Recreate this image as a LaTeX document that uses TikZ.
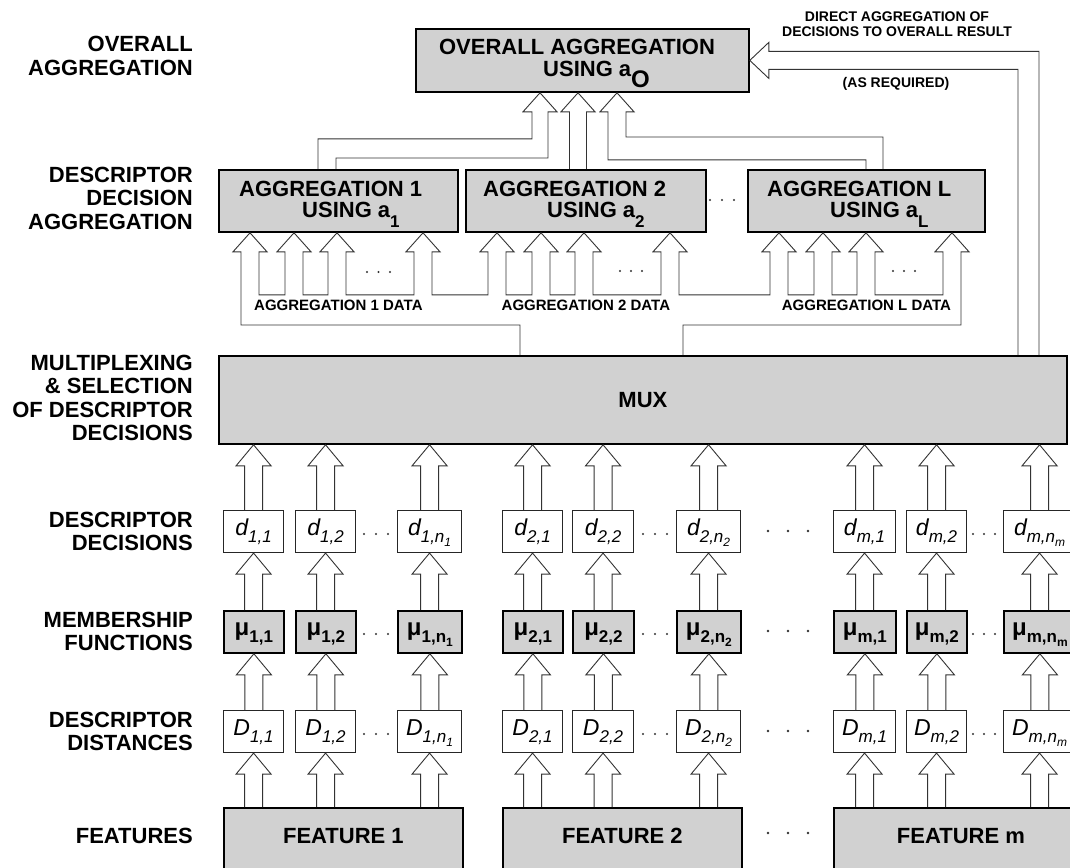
\documentclass[tikz,border=0pt]{standalone}
\usepackage{fontspec}
\setmainfont{Liberation Sans}
\usetikzlibrary{calc}
\newcommand\sbs[1]{\raisebox{-7pt}{\fontsize{17}{17}\selectfont #1}}
\newcommand\ssb[1]{\raisebox{-4pt}{\fontsize{12}{12}\selectfont #1}}
\newcommand\asb[2][17]{\raisebox{-10pt}{\fontsize{#1}{#1}\selectfont #2}}
\newcommand\rlines[1]{\vtop{\halign{\hfil##\cr#1\crcr}}}
\newcommand\clines[1]{\vtop{\halign{\hfil##\hfil\cr#1\crcr}}}
\newcommand\hd[1]{-- ($(#1)+(-17,19)$) -- (#1) -- ($(#1)+(17,19)$) -- ($(#1)+(9,19)$)}
\newcommand\ud[2]{-- ($(#1)+(9,62)$) -- ($(#2)+(-9,62)$) -- ($(#2)+(-9,19)$)}
\newcommand\harrow[2]{\draw[conn] let \p1=(#1), \p2=(#2) in (\x2-9pt,\y1) -- (\x2-9pt,\y2-21pt) -- (\x2-17.5pt,\y2-21pt) -- (\x2,\y2) -- (\x2+17.5pt,\y2-21pt) -- (\x2+9pt,\y2-21pt) -- (\x2+9pt,\y1);}
\newcommand\threedots[4]{\foreach \k in {0,1,2}{\fill[black!80] ({#1+\k*#3},#2) circle (#4);}}
\newcommand\cellrow[3]{%
 \node[#2,minimum width=60pt] (#1-11) at (223,0) {#3\sbs{1,1}};
 \node[#2,minimum width=60pt] (#1-12) at (295,0) {#3\sbs{1,2}};
 \node[#2,minimum width=64pt] (#1-1n) at (397,0) {#3\sbs{1,n\ssb{1}}};
 \node[#2,minimum width=60pt] (#1-21) at (502,0) {#3\sbs{2,1}};
 \node[#2,minimum width=61pt] (#1-22) at (572,0) {#3\sbs{2,2}};
 \node[#2,minimum width=64pt] (#1-2n) at (676,0) {#3\sbs{2,n\ssb{2}}};
 \node[#2,minimum width=62pt] (#1-m1) at (833,0) {#3\sbs{m,1}};
 \node[#2,minimum width=60pt] (#1-m2) at (906,0) {#3\sbs{m,2}};
 \node[#2,minimum width=72pt] (#1-mn) at (1003,0) {#3\sbs{m,n\ssb{m}}};
}
\begin{document}
\begin{tikzpicture}[x=1pt,y=-1pt,
  conn/.style={draw=black!80,line width=0.9pt,line join=miter},
  gbox/.style={draw=black,line width=1.8pt,fill=black!18,inner sep=0pt},
  wbox/.style={draw=black!85,line width=1.1pt,fill=white,inner sep=0pt},
  cellw/.style={wbox,text height=25pt,text depth=17pt,anchor=north west,font=\fontsize{23}{23}\selectfont\itshape},
  cellg/.style={gbox,text height=25pt,text depth=17pt,anchor=north west,font=\fontsize{24}{24}\selectfont\bfseries},
  btxt/.style={inner sep=0pt,font=\fontsize{22}{22}\selectfont\bfseries},
  lbl/.style={inner sep=0pt,anchor=base east,font=\fontsize{22}{23.5}\selectfont\bfseries},
  dtxt/.style={inner sep=0pt,anchor=base,font=\fontsize{15}{15}\selectfont\bfseries},
  stxt/.style={inner sep=0pt,anchor=base,font=\fontsize{14}{15}\selectfont\bfseries}]
\useasboundingbox (0,0) rectangle (1070,867);
\fill[white] (0,0) rectangle (1070,867);
\clip (0,0) rectangle (1070,867);

% left labels
\node[lbl] (L1) at (193,52) {\rlines{OVERALL\cr AGGREGATION}};
\node[lbl] (L2) at (193,182) {\rlines{DESCRIPTOR\cr DECISION\cr AGGREGATION}};
\node[lbl] (L3) at (193,370) {\rlines{MULTIPLEXING\cr \& SELECTION\cr OF DESCRIPTOR\cr DECISIONS}};
\node[lbl] (L4) at (193,527) {\rlines{DESCRIPTOR\cr DECISIONS}};
\node[lbl] (L5) at (193,627) {\rlines{MEMBERSHIP\cr FUNCTIONS}};
\node[lbl] (L6) at (193,727) {\rlines{DESCRIPTOR\cr DISTANCES}};
\node[lbl] (L7) at (193,843) {FEATURES};

% overall box
\node[gbox,minimum width=333pt,minimum height=63pt,anchor=north west] (ovr) at (415,28) {};
\node[btxt,anchor=base] (ovr1) at (577,55) {OVERALL AGGREGATION};
\node[btxt,anchor=base west] (ovr2) at (543,77) {USING a\asb[24]{O}};

% aggregation boxes
\node[gbox,minimum width=239pt,minimum height=62pt,anchor=north west] (agg1) at (218,169) {};
\node[gbox,minimum width=240pt,minimum height=62pt,anchor=north west] (agg2) at (465,169) {};
\node[gbox,minimum width=237pt,minimum height=62pt,anchor=north west] (aggL) at (747,169) {};
\node[btxt,anchor=base west] (a1t1) at (239,196) {AGGREGATION 1};
\node[btxt,anchor=base west] (a1t2) at (302,217) {USING a\asb{1}};
\node[btxt,anchor=base west] (a2t1) at (483,196) {AGGREGATION 2};
\node[btxt,anchor=base west] (a2t2) at (547,217) {USING a\asb{2}};
\node[btxt,anchor=base west] (aLt1) at (767,196) {AGGREGATION L};
\node[btxt,anchor=base west] (aLt2) at (830,217) {USING a\asb{L}};
\threedots{710}{200}{12}{1.2pt}

% MUX
\node[gbox,minimum width=848pt,minimum height=88pt,anchor=north west,font=\fontsize{22}{22}\selectfont\bfseries] (mux) at (218,355) {MUX};

% data labels
\node[dtxt] (d1l) at (agg1.south |- 0,310) {AGGREGATION 1 DATA};
\node[dtxt] (d2l) at (agg2.south |- 0,310) {AGGREGATION 2 DATA};
\node[dtxt] (dLl) at (aggL.south |- 0,310) {AGGREGATION L DATA};

% direct aggregation text
\node[stxt] (dir) at (897,22) {\clines{DIRECT AGGREGATION OF\cr DECISIONS TO OVERALL RESULT}};
\node[stxt] (asr) at (896,87) {(AS REQUIRED)};

% rows of cells
\begin{scope}[yshift=-510pt]\cellrow{dec}{cellw}{d}\end{scope}
\begin{scope}[yshift=-610pt]\cellrow{mem}{cellg}{μ}\end{scope}
\begin{scope}[yshift=-710pt]\cellrow{dst}{cellw}{D}\end{scope}

% features
\node[gbox,minimum width=239pt,text height=36pt,text depth=44pt,anchor=north west,font=\fontsize{22}{22}\selectfont\bfseries] (f1) at (223,807) {FEATURE 1};
\node[gbox,minimum width=239pt,text height=36pt,text depth=44pt,anchor=north west,font=\fontsize{22}{22}\selectfont\bfseries] (f2) at (502,807) {FEATURE 2};
\node[gbox,minimum width=254pt,text height=36pt,text depth=44pt,anchor=north west,font=\fontsize{22}{22}\selectfont\bfseries] (fm) at (833,807) {FEATURE m};

% dots
\foreach \y in {534,634,734}{
  \threedots{364}{\y}{12}{1.2pt}
  \threedots{643}{\y}{12}{1.2pt}
  \threedots{973}{\y}{11}{1.2pt}}
\foreach \y in {531,631,731,833}{\threedots{768}{\y}{20}{1.3pt}}
\threedots{367}{272}{11.5}{1.2pt}
\threedots{620}{271}{11}{1.2pt}
\threedots{893}{271}{11}{1.2pt}

% vertical hollow arrows
\foreach \c/\f in {11/f1,12/f1,1n/f1,21/f2,22/f2,2n/f2,m1/fm,m2/fm,mn/fm}{
  \harrow{dec-\c.north}{dec-\c.north |- mux.south}
  \harrow{mem-\c.north}{dec-\c.south}
  \harrow{dst-\c.north}{mem-\c.south}
  \harrow{dst-\c.south |- \f.north}{dst-\c.south}
}

% bus from MUX to aggregation boxes
\foreach \b/\n in {agg1/1,agg2/2,aggL/L}{
  \coordinate (t\n a) at ($(\b.south west)+(32,0)$);
  \coordinate (t\n b) at ($(\b.south west)+(76,0)$);
  \coordinate (t\n c) at ($(\b.south west)+(119,0)$);
  \coordinate (t\n d) at ($(\b.south west)+(205,0)$);
}
\coordinate (busL) at ($(mux.north west)+(302,0)$);
\coordinate (busR) at ($(mux.north west)+(465,0)$);
\draw[conn] (busL) -- ++(0,-30) -| ($(t1a)+(-9,19)$)
  \hd{t1a} \ud{t1a}{t1b} \hd{t1b} \ud{t1b}{t1c} \hd{t1c} \ud{t1c}{t1d} \hd{t1d} \ud{t1d}{t2a}
  \hd{t2a} \ud{t2a}{t2b} \hd{t2b} \ud{t2b}{t2c} \hd{t2c} \ud{t2c}{t2d} \hd{t2d} \ud{t2d}{tLa}
  \hd{tLa} \ud{tLa}{tLb} \hd{tLb} \ud{tLb}{tLc} \hd{tLc} \ud{tLc}{tLd} \hd{tLd}
  |- ($(busR)+(0,-30)$) -- (busR);

% arrows into the overall box
\coordinate (o1) at ($(ovr.south west)+(125,0)$);
\coordinate (o2) at ($(ovr.south west)+(163,0)$);
\coordinate (o3) at ($(ovr.south west)+(202,0)$);
\draw[conn] ($(agg1.north west)+(100,0)$) |- ($(o1)+(-8,46)$) -- ($(o1)+(-8,19)$)
  -- ($(o1)+(-17,19)$) -- (o1) -- ($(o1)+(17,19)$) -- ($(o1)+(8,19)$)
  |- ($(agg1.north west)+(118,-11)$) -- ($(agg1.north west)+(118,0)$);
\draw[conn] ($(o2 |- agg2.north)+(-8.5,0)$) -- ($(o2)+(-8.5,19)$)
  -- ($(o2)+(-17,19)$) -- (o2) -- ($(o2)+(17,19)$) -- ($(o2)+(8.5,19)$)
  -- ($(o2 |- agg2.north)+(8.5,0)$);
\draw[conn] ($(aggL.north west)+(119,0)$) |- ($(o3)+(-9,67)$) -- ($(o3)+(-9,19)$)
  -- ($(o3)+(-17,19)$) -- (o3) -- ($(o3)+(17,19)$) -- ($(o3)+(9,19)$)
  |- ($(aggL.north west)+(136,-32)$) -- ($(aggL.north west)+(136,0)$);

% direct aggregation arrow
\coordinate (dtip) at (ovr.east);
\draw[conn] ($(mux.north west)+(800,0)$) |- ($(dtip)+(19,9)$) -- ($(dtip)+(19,18)$)
  -- (dtip) -- ($(dtip)+(19,-18)$) -- ($(dtip)+(19,-9)$)
  -| ($(mux.north west)+(821,0)$);
\end{tikzpicture}
\end{document}
